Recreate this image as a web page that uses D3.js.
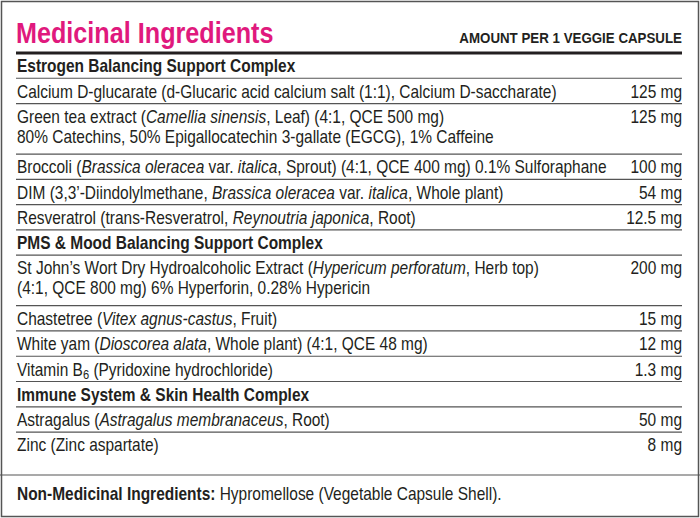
<!DOCTYPE html>
<html>
<head>
<meta charset="utf-8">
<script src="https://cdn.jsdelivr.net/npm/d3@7"></script>
<style>
body { margin: 0; background: #fff; }
text { font-family: "Liberation Sans", Arial, sans-serif; fill: #231f20; }
</style>
</head>
<body>
<script>
// row kinds: "h" = section header, "i" = ingredient
// text markup: *...* italic, ~...~ subscript, | line break
var kinds = ["h", "i", "i", "i", "i", "i", "h", "i", "i", "i", "i", "h", "i", "i"];
var labels = [
    "Estrogen Balancing Support Complex",
    "Calcium D-glucarate (d-Glucaric acid calcium salt (1:1), Calcium D-saccharate)",
    "Green tea extract (*Camellia sinensis*, Leaf) (4:1, QCE 500 mg)|80% Catechins, 50% Epigallocatechin 3-gallate (EGCG), 1% Caffeine",
    "Broccoli (*Brassica oleracea* var. *italica*, Sprout) (4:1, QCE 400 mg) 0.1% Sulforaphane",
    "DIM (3,3’-Diindolylmethane, *Brassica oleracea* var. *italica*, Whole plant)",
    "Resveratrol (trans-Resveratrol, *Reynoutria japonica*, Root)",
    "PMS & Mood Balancing Support Complex",
    "St John’s Wort Dry Hydroalcoholic Extract (*Hypericum perforatum*, Herb top)|(4:1, QCE 800 mg) 6% Hyperforin, 0.28% Hypericin",
    "Chastetree (*Vitex agnus-castus*, Fruit)",
    "White yam (*Dioscorea alata*, Whole plant) (4:1, QCE 48 mg)",
    "Vitamin B~6~ (Pyridoxine hydrochloride)",
    "Immune System & Skin Health Complex",
    "Astragalus (*Astragalus membranaceus*, Root)",
    "Zinc (Zinc aspartate)"
];
var amounts = ["", "125 mg", "125 mg", "100 mg", "54 mg", "12.5 mg", "", "200 mg", "15 mg", "12 mg", "1.3 mg", "", "50 mg", "8 mg"];

var W = 700, H = 518, left = 16, right = 682, top0 = 53, unit = 25.27;
var sx = 0.86; // squeeze to mimic the condensed face

var svg = d3.select("body").append("svg").attr("width", W).attr("height", H);

svg.append("rect").attr("x", 1.5).attr("y", 1.5).attr("width", W - 3).attr("height", H - 3)
    .attr("fill", "none").attr("stroke", "#555").attr("stroke-width", 1.5);

function place(x, y, s) { return "translate(" + x + "," + y + ") scale(" + (s || sx) + ",1)"; }

svg.append("text").attr("transform", place(left, 43, 0.84))
    .attr("font-size", 30).attr("font-weight", "bold").style("fill", "#e0197d")
    .text("Medicinal Ingredients");
svg.append("text").attr("transform", place(right, 43, 0.86)).attr("text-anchor", "end")
    .attr("font-size", 15.5).attr("font-weight", "bold")
    .text("AMOUNT PER 1 VEGGIE CAPSULE");

svg.append("line").attr("x1", left).attr("x2", right).attr("y1", top0).attr("y2", top0)
    .attr("stroke", "#231f20").attr("stroke-width", 3);

// cumulative row layout in units
var rows = labels.map(function(l, i) {
    return { kind: kinds[i], lines: l.split("|"), amount: amounts[i] };
});
var acc = 0;
rows.forEach(function(r) { r.start = acc; acc += r.lines.length; r.end = acc; });

var y = d3.scaleLinear().domain([0, acc]).range([top0, top0 + unit * acc]);

var g = svg.selectAll("g.row").data(rows).enter().append("g").attr("class", "row");

g.filter(function(d, i) { return i < rows.length - 1; })
    .append("line")
    .attr("x1", left).attr("x2", right)
    .attr("y1", function(d) { return y(d.end); }).attr("y2", function(d) { return y(d.end); })
    .attr("stroke", "#555").attr("stroke-width", 1.2);

function addRich(t, str) {
    var parts = str.split(/(\*[^*]+\*|~[^~]+~)/), shift = 0;
    parts.forEach(function(p) {
        if (!p) return;
        var ts;
        if (p[0] === "*") ts = t.append("tspan").attr("font-style", "italic").text(p.slice(1, -1));
        else if (p[0] === "~") ts = t.append("tspan").attr("font-size", "0.72em").text(p.slice(1, -1));
        else ts = t.append("tspan").text(p);
        var want = p[0] === "~" ? 3 : 0;
        if (want !== shift) { ts.attr("dy", want - shift); shift = want; }
    });
}

g.each(function(d) {
    var sel = d3.select(this);
    d.lines.forEach(function(line, k) {
        var t = sel.append("text")
            .attr("transform", place(left + 1, y(d.start + 1) - 6 + k * 20))
            .attr("font-size", 18)
            .attr("font-weight", d.kind === "h" ? "bold" : "normal");
        addRich(t, line);
    });
    if (d.amount) {
        sel.append("text").attr("transform", place(right, y(d.start + 1) - 6))
            .attr("text-anchor", "end").attr("font-size", 18).text(d.amount);
    }
});

svg.append("line").attr("x1", 0).attr("x2", W).attr("y1", 475).attr("y2", 475)
    .attr("stroke", "#555").attr("stroke-width", 1.2);

var foot = svg.append("text").attr("transform", place(left + 1, 500)).attr("font-size", 18);
foot.append("tspan").attr("font-weight", "bold").text("Non-Medicinal Ingredients:");
foot.append("tspan").text(" Hypromellose (Vegetable Capsule Shell).");
</script>
</body>
</html>
